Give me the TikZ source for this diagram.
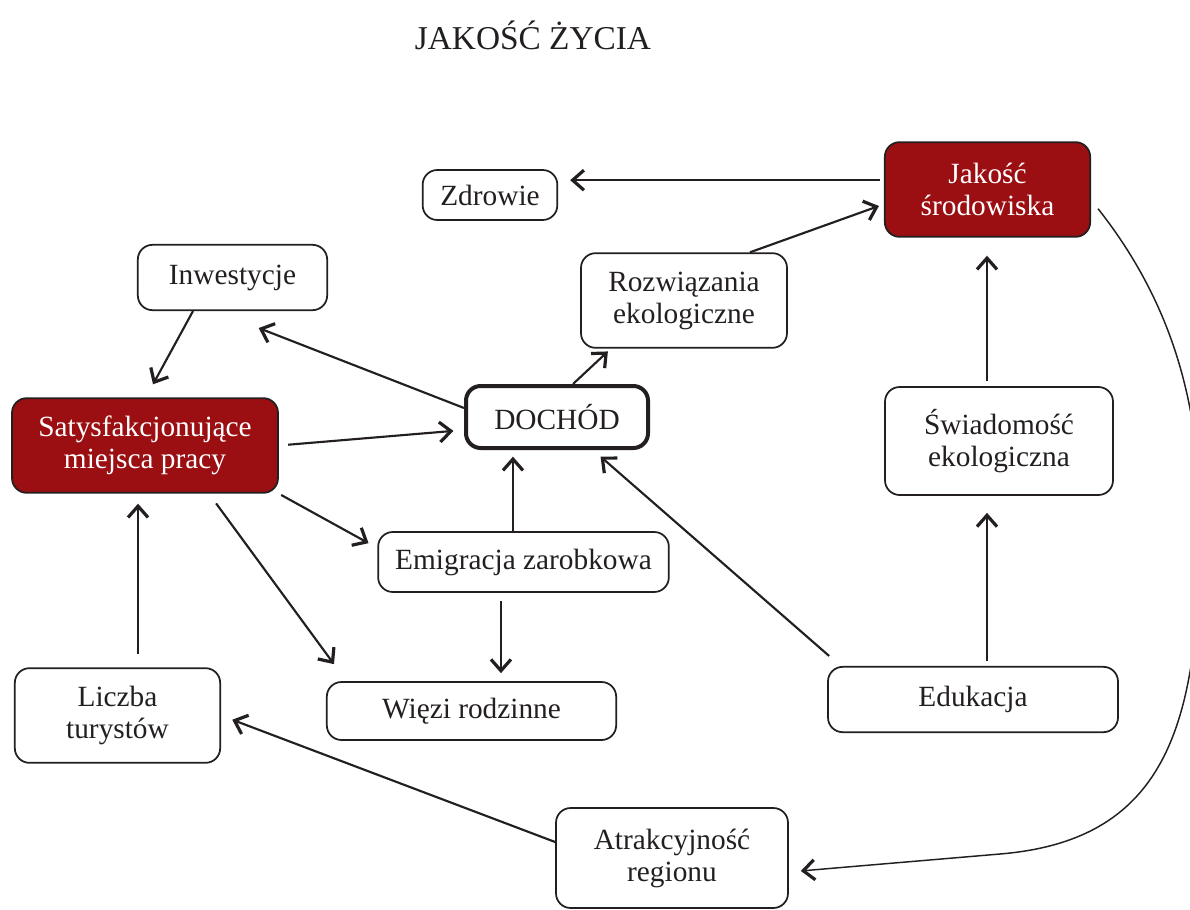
\documentclass[tikz,border=0pt]{standalone}
\usepackage{fontspec}
\setmainfont{Liberation Serif}
\usetikzlibrary{arrows.meta,calc}
\definecolor{boxred}{RGB}{155,14,18}
\definecolor{ink}{RGB}{35,31,32}
\begin{document}
\begin{tikzpicture}[x=0.75pt,y=-0.75pt,
  box/.style={draw=ink,line width=1.3pt,rounded corners=11pt,align=center,text=ink,
    font=\fontsize{22}{24}\selectfont,inner sep=0pt},
  redbox/.style={box,fill=boxred,text=white},
  arr/.style={draw=ink,line width=1.6pt,-{Straight Barb[length=8.5pt,width=15pt,line width=2.4pt]}},
  curvearr/.style={draw=ink,line width=1.1pt,-{Straight Barb[length=8.5pt,width=15pt,line width=2.4pt]}}
]
\useasboundingbox (0,0) rectangle (1190,910);
\fill[white] (0,0) rectangle (1190,910);

\node[text=ink,font=\fontsize{25}{30}\selectfont] (title) at (533,35) {JAKOŚĆ ŻYCIA};

\node[box,minimum width=101pt,minimum height=37.5pt] (zdr) at (490,195) {Zdrowie};
\node[redbox,minimum width=154pt,minimum height=71pt] (jak) at (987.5,189.5) {Jakość\\środowiska};
\node[box,minimum width=142pt,minimum height=49pt] (inw) at (232.5,277.5) {Inwestycje};
\node[box,minimum width=154.5pt,minimum height=71pt] (roz) at (684,300.5) {Rozwiązania\\ekologiczne};
\node[redbox,minimum width=199.5pt,minimum height=71pt] (sat) at (145,445.5) {Satysfakcjonujące\\miejsca pracy};
\node[box,line width=3pt,minimum width=136.5pt,minimum height=46.5pt] (doch) at (557,417) {DOCHÓD};
\node[box,minimum width=171pt,minimum height=81pt] (swi) at (999,441) {Świadomość\\ekologiczna};
\node[box,minimum width=218pt,minimum height=45pt] (emi) at (523.5,562) {Emigracja zarobkowa};
\node[box,minimum width=154pt,minimum height=71pt] (lic) at (117.5,715.5) {Liczba\\turystów};
\node[box,minimum width=217pt,minimum height=43.5pt] (wie) at (471.5,711) {Więzi rodzinne};
\node[box,minimum width=217.5pt,minimum height=49pt] (edu) at (973,699.5) {Edukacja};
\node[box,minimum width=174pt,minimum height=75pt] (atr) at (672,858) {Atrakcyjność\\regionu};

% connectors
\draw[arr,shorten <=3pt,shorten >=9pt] ([yshift=7pt]jak.west) -- ([yshift=7pt]jak.west -| zdr.east);
\draw[arr,shorten >=4pt] ([xshift=49.5pt]roz.north) -- ([yshift=-11pt]jak.west);
\draw[arr,shorten >=3pt] ([xshift=12pt]doch.north) -- ([xshift=23pt]roz.south west);
\draw[arr] ([yshift=6.75pt]doch.west) -- ([shift={(-52pt,-12.75pt)}]inw.south east);
\draw[arr] ([xshift=-29.6pt]inw.south) -- ([shift={(6pt,9.75pt)}]sat.north);
\draw[arr,shorten <=7pt,shorten >=8pt] (sat.east) -- ([yshift=-9.75pt]doch.west);
\draw[arr,shorten <=2pt,shorten >=7.5pt] (sat.south east) -- ([yshift=10.5pt]emi.west);
\draw[arr,shorten <=9pt] ([xshift=48pt]sat.south) -- ([shift={(6pt,12.75pt)}]wie.north west);
\draw[arr,shorten >=5pt] ([xshift=-7.9pt]emi.north) -- ([xshift=-7.9pt]emi.north |- doch.south);
\draw[arr,shorten <=6pt,shorten >=6pt] ([xshift=-16.9pt]emi.south) -- ([xshift=-16.9pt]emi.south |- wie.north);
\draw[arr,shorten <=9.75pt,shorten >=7.5pt] ([xshift=15.4pt]lic.north) -- ([xshift=15.4pt]lic.north |- sat.south);
\draw[arr,shorten >=7.5pt] ([shift={(1.5pt,7.5pt)}]edu.north west) -- ([xshift=27pt]doch.south);
\draw[arr,shorten <=3.75pt,shorten >=12.75pt] ([xshift=10.5pt]edu.north) -- ([xshift=10.5pt]edu.north |- swi.south);
\draw[arr,shorten <=3.75pt,shorten >=13.5pt] ([xshift=-9pt]swi.north) -- ([xshift=-9pt]swi.north |- jak.south);
\draw[arr,shorten >=9pt] ([yshift=12pt]atr.west) -- (lic.east);
\draw[curvearr,shorten >=9pt] ([shift={(5.25pt,21.75pt)}]jak.south east)
  .. controls (1170,300) and (1200,400) .. (1200,520)
  .. controls (1200,720) and (1170,840) .. (1000,854)
  .. controls (930,860) and (870,865) .. ([yshift=-10.5pt]atr.east);
\end{tikzpicture}
\end{document}
